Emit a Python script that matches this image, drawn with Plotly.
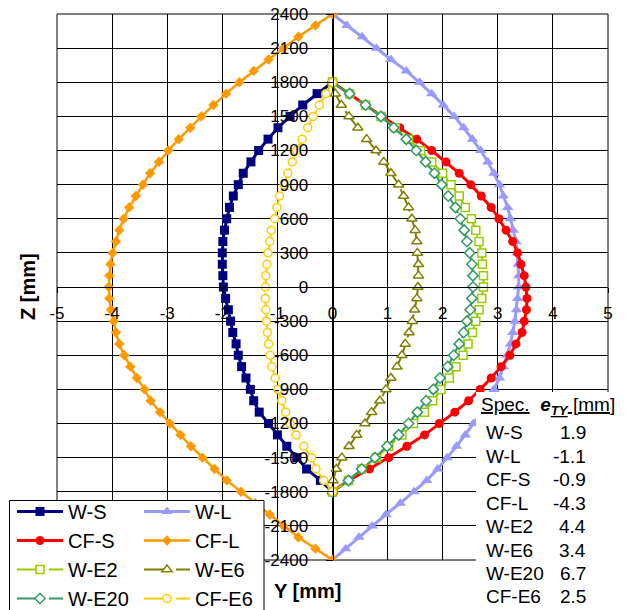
import plotly.graph_objects as go

# ---------------- data ----------------
z_short = [1800, 1700, 1600, 1500, 1400, 1300, 1200, 1100, 1000, 900, 800, 700, 600, 500, 400, 300, 200, 100, 0,
           -100, -200, -300, -400, -500, -600, -700, -800, -900, -1000, -1100, -1200, -1300, -1400, -1500, -1600, -1700, -1800]
z_long = [2400, 2300, 2200, 2100, 2000, 1900, 1800, 1700, 1600, 1500, 1400, 1300, 1200, 1100, 1000, 900, 800, 700, 600,
          500, 400, 300, 200, 100, 0,
          -100, -200, -300, -400, -500, -600, -700, -800, -900, -1000, -1100, -1200, -1300, -1400, -1500, -1600, -1700,
          -1800, -1900, -2000, -2100, -2200, -2300, -2400]

y_WS = [0, -0.28, -0.54, -0.77, -0.99, -1.17, -1.34, -1.48, -1.62, -1.71, -1.80, -1.87, -1.92, -1.96, -1.99, -2.00, -2.00, -1.99, -1.98,
        -1.94, -1.89, -1.85, -1.81, -1.75, -1.71, -1.65, -1.57, -1.49, -1.43, -1.33, -1.16, -1.00, -0.83, -0.65, -0.47, -0.22, 0]
y_WL = [0, 0.26, 0.54, 0.80, 1.06, 1.34, 1.58, 1.80, 2.01, 2.21, 2.38, 2.54, 2.69, 2.82, 2.93, 3.03, 3.10, 3.18, 3.23, 3.28, 3.33, 3.35, 3.37, 3.38, 3.38,
        3.36, 3.34, 3.31, 3.27, 3.23, 3.17, 3.10, 3.03, 2.93, 2.82, 2.70, 2.56, 2.41, 2.25, 2.08, 1.91, 1.71, 1.48, 1.23, 0.97, 0.72, 0.48, 0.24, 0]
y_CFS = [0, 0.31, 0.60, 0.90, 1.22, 1.53, 1.80, 2.06, 2.30, 2.51, 2.70, 2.88, 3.02, 3.15, 3.27, 3.36, 3.42, 3.48, 3.51,
         3.53, 3.52, 3.48, 3.44, 3.33, 3.22, 3.06, 2.88, 2.68, 2.47, 2.22, 1.94, 1.67, 1.35, 1.02, 0.67, 0.29, 0]
y_CFL = [0, -0.31, -0.62, -0.89, -1.16, -1.43, -1.69, -1.93, -2.16, -2.38, -2.58, -2.79, -2.98, -3.15, -3.31, -3.44, -3.57, -3.69, -3.79, -3.87, -3.93, -3.99, -4.03, -4.05, -4.06,
         -4.05, -4.02, -3.97, -3.93, -3.87, -3.78, -3.67, -3.55, -3.41, -3.30, -3.13, -2.95, -2.76, -2.57, -2.36, -2.14, -1.92, -1.66, -1.40, -1.14, -0.89, -0.62, -0.31, 0]
y_WE2 = [0, 0.31, 0.60, 0.88, 1.14, 1.38, 1.60, 1.80, 2.00, 2.15, 2.30, 2.41, 2.52, 2.60, 2.66, 2.71, 2.72, 2.74, 2.74,
         2.71, 2.66, 2.60, 2.54, 2.46, 2.37, 2.24, 2.12, 1.97, 1.82, 1.67, 1.47, 1.26, 1.02, 0.80, 0.53, 0.29, 0]
y_WE6 = [0, 0.05, 0.16, 0.30, 0.46, 0.62, 0.79, 0.93, 1.06, 1.20, 1.29, 1.38, 1.44, 1.50, 1.53, 1.54, 1.56, 1.56, 1.55,
         1.53, 1.49, 1.45, 1.39, 1.32, 1.26, 1.17, 1.06, 0.97, 0.86, 0.71, 0.59, 0.44, 0.30, 0.17, 0.07, 0.01, 0]
y_WE20 = [0, 0.31, 0.60, 0.88, 1.11, 1.34, 1.52, 1.69, 1.85, 1.98, 2.10, 2.23, 2.32, 2.39, 2.44, 2.49, 2.53, 2.55, 2.55,
          2.53, 2.50, 2.44, 2.38, 2.30, 2.20, 2.09, 1.95, 1.83, 1.70, 1.54, 1.38, 1.20, 0.99, 0.77, 0.53, 0.29, 0]
y_CFE6 = [0, -0.12, -0.24, -0.35, -0.45, -0.55, -0.65, -0.73, -0.81, -0.88, -0.96, -1.01, -1.05, -1.11, -1.14, -1.17, -1.19, -1.21, -1.22,
          -1.22, -1.21, -1.20, -1.18, -1.16, -1.13, -1.10, -1.04, -0.99, -0.92, -0.85, -0.77, -0.66, -0.52, -0.38, -0.30, -0.16, 0]

spec_names = ["W-S", "W-L", "CF-S", "CF-L", "W-E2", "W-E6", "W-E20", "CF-E6"]
spec_eTY = ["1.9", "-1.1", "-0.9", "-4.3", "4.4", "3.4", "6.7", "2.5"]

x_ticks = [-5, -4, -3, -2, -1, 0, 1, 2, 3, 4, 5]
z_ticks = [-2400, -2100, -1800, -1500, -1200, -900, -600, -300, 0, 300, 600, 900, 1200, 1500, 1800, 2100, 2400]

# ---------------- layout helpers ----------------
W, H = 632, 610
L, R, T, B = 57, 608, 14, 560
FONT = "Liberation Sans, Arial, sans-serif"


def px(xp):
    return (xp - L) / (R - L)


def py(yp):
    return (B - yp) / (B - T)


fig = go.Figure()

DASH = "24px,8px"
series = [
    ("W-S", y_WS, z_short, dict(color="#000080", width=3), dict(symbol="square", size=9, color="#000080"), "legend"),
    ("W-L", y_WL, z_long, dict(color="#9999FF", width=3), dict(symbol="triangle-up", size=10, color="#9999FF"), "legend2"),
    ("CF-S", y_CFS, z_short, dict(color="#FF0000", width=3), dict(symbol="circle", size=9, color="#FF0000"), "legend"),
    ("CF-L", y_CFL, z_long, dict(color="#FF9900", width=2.5), dict(symbol="diamond", size=8, color="#FF9900"), "legend2"),
    ("W-E2", y_WE2, z_short, dict(color="#99CC00", width=2, dash=DASH),
     dict(symbol="square", size=8, color="white", line=dict(color="#99CC00", width=1.5)), "legend"),
    ("W-E6", y_WE6, z_short, dict(color="#808000", width=2, dash=DASH),
     dict(symbol="triangle-up", size=9, color="white", line=dict(color="#808000", width=1.5)), "legend2"),
    ("W-E20", y_WE20, z_short, dict(color="#339966", width=2, dash=DASH),
     dict(symbol="diamond", size=8, color="white", line=dict(color="#339966", width=1.5)), "legend"),
    ("CF-E6", y_CFE6, z_short, dict(color="#FFCC00", width=2, dash=DASH),
     dict(symbol="circle", size=8, color="white", line=dict(color="#FFCC00", width=1.5)), "legend2"),
]

for name, xs, zs, line, marker, lg in series:
    fig.add_trace(go.Scatter(x=xs, y=zs, name=name, mode="lines+markers",
                             line=line, marker=marker, legend=lg))

LEG_Y = 1 - 492 / H
fig.update_layout(
    width=W, height=H,
    margin=dict(l=L, r=W - R, t=T, b=H - B, autoexpand=False),
    paper_bgcolor="white", plot_bgcolor="white",
    font=dict(family=FONT, size=17, color="black"),
    xaxis=dict(range=[-5, 5], tickvals=x_ticks, ticktext=[str(v) for v in x_ticks],
               showgrid=True, gridcolor="black", gridwidth=1, zeroline=False,
               showline=True, linecolor="black", linewidth=1,
               anchor="free", position=0.5, ticks="outside", ticklen=5, tickcolor="black",
               ticklabelstandoff=6, tickfont=dict(size=17)),
    yaxis=dict(range=[-2400, 2400], tickvals=z_ticks, ticktext=[str(v) for v in z_ticks],
               showgrid=True, gridcolor="black", gridwidth=1, zeroline=False,
               showline=True, linecolor="black", linewidth=1,
               anchor="free", position=0.5, ticks="outside", ticklen=7, tickcolor="black",
               ticklabelstandoff=14, tickfont=dict(size=17)),
    legend=dict(xref="container", yref="container", x=12 / W, y=LEG_Y,
                xanchor="left", yanchor="top", bgcolor="rgba(0,0,0,0)", borderwidth=0,
                font=dict(size=20, family=FONT), itemwidth=46, tracegroupgap=0),
    legend2=dict(xref="container", yref="container", x=139 / W, y=LEG_Y,
                 xanchor="left", yanchor="top", bgcolor="rgba(0,0,0,0)", borderwidth=0,
                 font=dict(size=20, family=FONT), itemwidth=46, tracegroupgap=0),
    showlegend=True,
)

shapes = [
    dict(type="rect", xref="paper", yref="paper", x0=0, x1=1, y0=0, y1=1,
         line=dict(color="black", width=1), layer="below"),
    # white table background
    dict(type="rect", xref="paper", yref="paper", x0=px(476), x1=px(640), y0=py(392), y1=py(620),
         line=dict(width=0), fillcolor="white", layer="above"),
    # legend box
    dict(type="rect", xref="paper", yref="paper", x0=px(9.5), x1=px(264), y0=py(500.5), y1=py(630),
         line=dict(color="black", width=1), fillcolor="white", layer="above"),
]
fig.update_layout(shapes=shapes)

ann = [
    dict(text="<b>Z [mm]</b>", x=px(28), y=py(287), xref="paper", yref="paper", showarrow=False,
         textangle=-90, xanchor="center", yanchor="middle", font=dict(size=20)),
    dict(text="<b>Y [mm]</b>", x=px(307), y=py(591), xref="paper", yref="paper", showarrow=False,
         xanchor="center", yanchor="middle", font=dict(size=20)),
    dict(text="<u>Spec.</u>\u00a0\u00a0<b><i>e</i></b><sub><u><b><i>TY</i></b></u></sub><u>\u00a0[mm]</u>",
         x=px(479), y=py(406), xref="paper", yref="paper", showarrow=False, xanchor="left",
         yanchor="middle", font=dict(size=19)),
]
for i, (n, v) in enumerate(zip(spec_names, spec_eTY)):
    yy = 433 + i * 23.4
    ann.append(dict(text=n, x=px(484), y=py(yy), xref="paper", yref="paper", showarrow=False,
                    xanchor="left", yanchor="middle", font=dict(size=19)))
    ann.append(dict(text=v, x=px(588), y=py(yy), xref="paper", yref="paper", showarrow=False,
                    xanchor="right", yanchor="middle", font=dict(size=19)))
fig.update_layout(annotations=ann)

fig.write_html("out.html", config={"displayModeBar": False},
               post_script="document.body.style.margin='0';")
